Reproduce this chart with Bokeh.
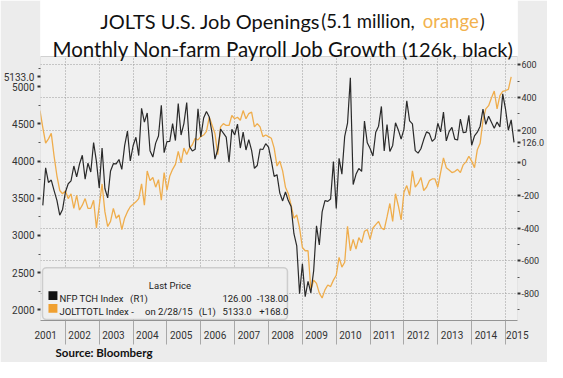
from bokeh.plotting import figure
from bokeh.models import (Range1d, LinearAxis, FixedTicker, Grid, Label, Title,
                          BoxAnnotation, CustomJSTickFormatter)
from bokeh.embed import file_html
from bokeh.resources import INLINE

# ---------------- data ----------------
# NFP TCH Index: monthly change in non-farm payrolls (k), Apr 2001 .. Mar 2015
nfp_start = (2001, 4)
nfp = [
    -260, -30, -120, -105, -170, -230, -320, -285, -180,
    -128, -110, -19, -86, -7, 47, -100, -2, -56, 124, 9, -154,
    91, -157, -214, -50, -5, -6, 21, -40, 106, 195, 12, 105,
    157, 45, 334, 250, 306, 75, 36, 121, 165, 353, 63, 130,
    132, 241, 137, 363, 171, 241, 370, 100, 73, 83, 332, 159,
    275, 315, 281, 183, 23, 82, 207, 182, 158, 4, 206, 171,
    238, 91, 189, 79, 143, 77, -33, -16, 85, 82, 118, 97,
    13, -83, -72, -185, -233, -178, -231, -267, -434, -509, -802, -619,
    -820, -726, -796, -660, -386, -502, -300, -231, -236, -221, 8, -279,
    28, -69, 163, 243, 522, -133, -70, -34, -52, 257, 123, 88,
    42, 188, 225, 346, 73, 235, 70, 107, 246, 202, 146, 207,
    380, 257, 239, 75, 60, 87, 143, 190, 181, 132, 149, 243,
    190, 311, 135, 192, 218, 146, 140, 269, 185, 189, 291, 108,
    166, 188, 225, 330, 236, 286, 249, 213, 250, 221, 423, 329,
    201, 264, 126,
]
nfp_change = -138.0

# JOLTTOTL Index: JOLTS job openings (k), Mar 2001 .. Feb 2015
jolts_start = (2001, 3)
jolts = [
    4680, 4450, 4241, 4300, 4373, 4066, 3803, 3605, 3561, 3600,
    3496, 3561, 3364, 3539, 3342, 3408, 3496, 3364, 3364, 3474, 3101, 3400,
    3693, 3320, 3120, 3189, 3364, 3232, 3276, 3079, 3232, 3320, 3386, 3420,
    3452, 3496, 3693, 3408, 3868, 3737, 3780, 3650, 3750, 3474, 3846, 3610,
    3800, 3890, 3956, 4132, 3978, 4175, 4090, 4175, 4220, 4307, 4285, 4330,
    4351, 4400, 4592, 4482, 4373, 4088, 4460, 4504, 4480, 4480, 4614, 4570,
    4590, 4550, 4680, 4570, 4640, 4660, 4460, 4504, 4460, 4330, 4351, 4330,
    4307, 4175, 3934, 4000, 3868, 3649, 3561, 3408, 3232, 3276, 3101, 2838,
    2794, 2794, 2270, 2400, 2356, 2224, 2158, 2268, 2334, 2312, 2399, 2465,
    2706, 2575, 2640, 3123, 2794, 2947, 2816, 2970, 2904, 3057, 3079, 2947,
    3101, 3145, 3189, 3101, 3079, 3250, 3430, 3189, 3561, 3400, 3210, 3583,
    3671, 3540, 3868, 3649, 3700, 3780, 3605, 3649, 3737, 3760, 3760, 3649,
    3850, 4044, 3912, 3880, 3846, 3860, 3890, 3846, 3950, 3990, 4066, 4000,
    3912, 4154, 4241, 4549, 4702, 4746, 4850, 4943, 4702, 4880, 4940, 4950,
    4965, 5133,
]
jolts_change = 168.0
jolts_date = "2/28/15"

years = list(range(2001, 2016))
left_ticks = [2000, 2500, 3000, 3500, 4000, 4500, 5000]
left_minor = [2250, 2750, 3250, 3750, 4250, 4750, 5250]
right_ticks = [-800, -600, -400, -200, 0, 200, 400, 600]
right_minor = [-900, -700, -500, -300, -100, 100, 300, 500]


def month_end(start, n):
    y, m = start
    return [y + (m + i) / 12.0 for i in range(n)]


nfp_x = month_end(nfp_start, len(nfp))
jolts_x = month_end(jolts_start, len(jolts))

# ---------------- geometry (canvas px) ----------------
W, H = 547, 362
FR_L, FR_R, FR_T, FR_B = 40, 519, 0, 320    # frame (includes title area)
PL_T = 56                                    # top of the chart panel
PX_YEAR = 34.0
X0 = 2001.265
X1 = X0 + (FR_R - FR_L) / PX_YEAR
PX_L = 0.07433                               # px per job-opening unit
PX_R = 0.1632                                # px per payroll unit
YL1 = 5000 + 86.3 / PX_L
YL0 = YL1 - (FR_B - FR_T) / PX_L
YR1 = 0 + 162.4 / PX_R
YR0 = YR1 - (FR_B - FR_T) / PX_R


def cy(ref_y):          # reference chart y -> canvas y
    return PL_T + (ref_y - 58) * (FR_B - PL_T) / 270.0


def fx(px):
    return X0 + (px - FR_L) / PX_YEAR


def fy(py):
    return YL1 - (py - FR_T) / PX_L


ORANGE = "#efad4c"
BLACK = "#2a2a2a"
TXT = "#333333"
PANEL = "#ececec"

p = figure(width=W, height=H, x_range=Range1d(X0, X1), y_range=Range1d(YL0, YL1),
           x_axis_type=None, y_axis_type=None,
           min_border_left=FR_L, min_border_right=W - FR_R,
           min_border_top=FR_T, min_border_bottom=H - FR_B,
           toolbar_location=None, output_backend="svg")
p.extra_y_ranges = {"nfp": Range1d(YR0, YR1)}
p.border_fill_color = PANEL
p.background_fill_color = "white"
p.outline_line_color = None
p.grid.visible = False

# plot-area background (below the title strip)
p.add_layout(BoxAnnotation(top=fy(PL_T), fill_color="#f0f0f0", fill_alpha=1,
                           line_color=None, level="underlay"))

p.add_layout(Grid(dimension=0, ticker=FixedTicker(ticks=[float(y) for y in years[1:]]),
                  grid_line_color="#9a9a9a", grid_line_dash="1 2", grid_line_width=1))
p.add_layout(Grid(dimension=1, y_range_name="nfp", ticker=FixedTicker(ticks=right_ticks),
                  grid_line_color="#9a9a9a", grid_line_dash="1 2", grid_line_width=1))

p.line(jolts_x, jolts, line_color=ORANGE, line_width=1.3)
p.line(nfp_x, nfp, line_color=BLACK, line_width=1.2, y_range_name="nfp")

# white title strip on top of the grid, and the chart outline
p.add_layout(BoxAnnotation(bottom=fy(PL_T), fill_color="white", fill_alpha=1, line_color=None))
p.add_layout(BoxAnnotation(top=fy(PL_T), fill_alpha=0, line_color="#6f6f6f", line_width=1))

# axes; the last values are shown as extra labels (Bloomberg value tags)
yl = LinearAxis(ticker=FixedTicker(ticks=left_ticks + [jolts[-1]], minor_ticks=left_minor),
                formatter=CustomJSTickFormatter(
                    args=dict(last=jolts[-1]),
                    code="return tick == last ? tick.toFixed(1) : String(tick);"))
yr = LinearAxis(y_range_name="nfp",
                ticker=FixedTicker(ticks=right_ticks + [nfp[-1]], minor_ticks=right_minor),
                formatter=CustomJSTickFormatter(
                    args=dict(last=nfp[-1]),
                    code="return tick == last ? tick.toFixed(1) : String(tick);"))
for ax in (yl, yr):
    ax.axis_line_color = None
    ax.major_tick_line_color = "#333333"
    ax.major_tick_line_width = 2
    ax.major_tick_out = 3
    ax.major_tick_in = 0
    ax.minor_tick_line_color = "#555555"
    ax.minor_tick_out = 2
    ax.minor_tick_in = 0
    ax.major_label_text_font = "Roboto"
    ax.major_label_text_color = TXT
yl.major_label_text_font_size = "10px"
yr.major_label_text_font_size = "9px"
yl.major_label_standoff = 3
yr.major_label_standoff = 1
p.add_layout(yl, "left")
p.add_layout(yr, "right")

label_ticks = [min(y + 0.42, X1 - 0.005) for y in years]
xb = LinearAxis(ticker=FixedTicker(ticks=label_ticks,
                                   minor_ticks=[float(y) for y in years[1:]]),
                formatter=CustomJSTickFormatter(code="return String(Math.floor(tick));"))
xb.axis_line_color = "#9a9a9a"
xb.major_tick_out = 0
xb.major_tick_in = 0
xb.minor_tick_out = 24
xb.minor_tick_in = 0
xb.minor_tick_line_color = "#a8a8a8"
xb.major_label_standoff = -14
xb.major_label_text_font = "Roboto"
xb.major_label_text_font_size = "10px"
xb.major_label_text_color = TXT
p.add_layout(xb, "below")

p.add_layout(Title(text="Source:  Bloomberg", align="left", offset=15, standoff=4,
                   text_font="Lato", text_font_size="11.5px", text_font_style="bold",
                   text_color="#111111"), "below")

# legend box
p.add_layout(BoxAnnotation(left=fx(42), right=fx(288), top=fy(cy(274)), bottom=fy(cy(327)),
                           fill_color="#efefef", fill_alpha=1, line_color="#7d7d7d",
                           line_width=1.5, border_radius=4))
p.add_layout(BoxAnnotation(left=fx(48), right=fx(57), top=fy(cy(298)), bottom=fy(cy(307)),
                           fill_color="#111111", fill_alpha=1, line_color=None))
p.add_layout(BoxAnnotation(left=fx(48), right=fx(57), top=fy(cy(311)), bottom=fy(cy(320)),
                           fill_color="#f0a030", fill_alpha=1, line_color=None))
leg_font = dict(text_font="Roboto", text_font_size="9.5px", text_color="#222222",
                text_baseline="alphabetic")
legend_items = [
    ("Last Price", 170, 292, "center"),
    ("NFP TCH Index", 59, 306, "left"),
    ("(R1)", 130, 306, "left"),
    (f"{nfp[-1]:.2f}", 252, 306, "right"),
    (f"{nfp_change:.2f}", 289, 306, "right"),
    ("JOLTTOTL Index -", 59, 319, "left"),
    (f"on {jolts_date}", 145, 319, "left"),
    ("(L1)", 199, 319, "left"),
    (f"{jolts[-1]:.1f}", 252, 319, "right"),
    (f"+{jolts_change:.1f}", 289, 319, "right"),
]
for txt, x, y, al in legend_items:
    p.add_layout(Label(x=fx(x), y=fy(cy(y)), text=txt, text_align=al, **leg_font))

# title runs (inside the frame's white strip)
runs = [
    ("JOLTS U.S. Job Openings", 100, 20, "20px", "#111111", "left"),
    ("(5.1 million,", 322, 20, "18.5px", "#111111", "left"),
    ("orange", 480, 20, "18.5px", "#f2b24e", "right"),
    (")", 486, 20, "18.5px", "#111111", "right"),
    ("Monthly Non-farm Payroll Job Growth", 52, 48, "20.5px", "#111111", "left"),
    ("(126k, black)", 403, 48, "20px", "#111111", "left"),
]
for txt, x, y, fs, col, al in runs:
    p.add_layout(Label(x=fx(x), y=fy(y), text=txt, text_font="Lato",
                       text_font_size=fs, text_color=col,
                       text_baseline="alphabetic", text_align=al))

open("out.html", "w").write(file_html(p, INLINE))
